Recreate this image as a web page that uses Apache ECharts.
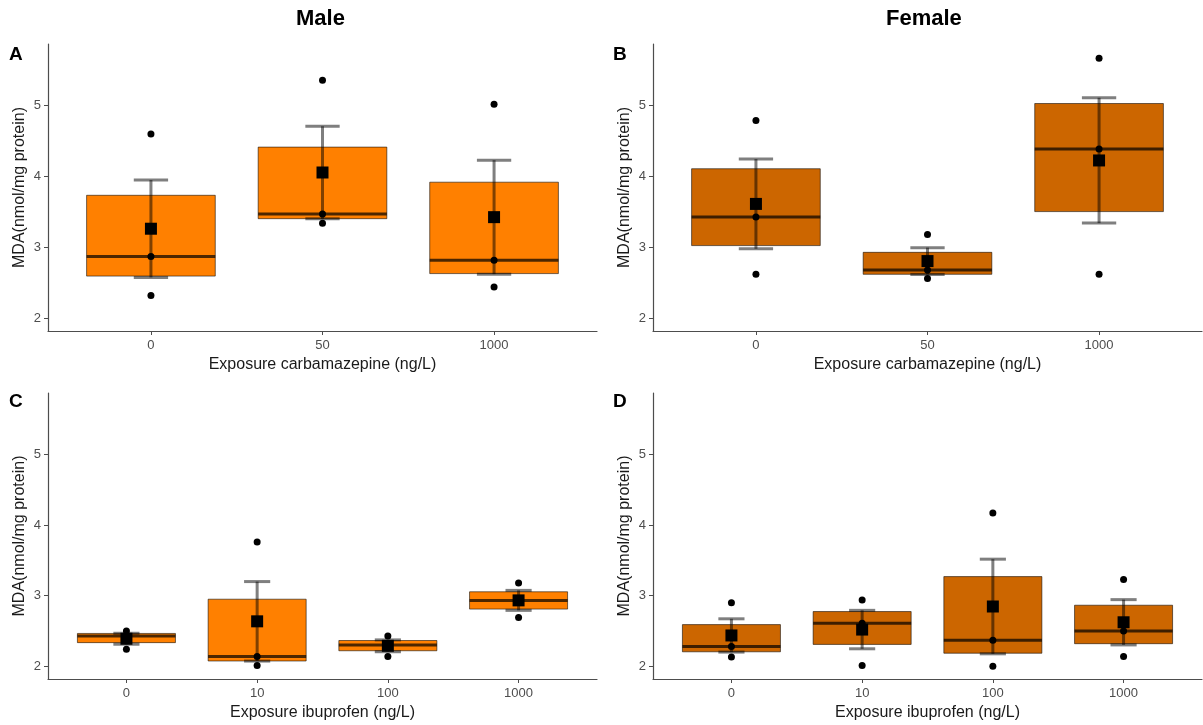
<!DOCTYPE html>
<html>
<head>
<meta charset="utf-8">
<title>MDA exposure boxplots</title>
<script src="https://cdn.jsdelivr.net/npm/echarts@6/dist/echarts.min.js"></script>
<style>
  html, body { margin: 0; padding: 0; background: #ffffff; }
  #chart { width: 1203px; height: 725px; }
</style>
</head>
<body>
<div id="chart"></div>
<script>
// categories (exposure levels)
const carbCategories = ['0', '50', '1000']
const ibuCategories = ['0', '10', '100', '1000']

// individual MDA values (nmol/mg protein) per exposure group
const maleCarb = [[2.32, 2.87, 4.60], [3.34, 3.47, 5.36], [2.44, 2.82, 5.02]]
const femaleCarb = [[2.62, 3.43, 4.79], [2.56, 2.68, 3.18], [2.62, 4.39, 5.67]]
const maleIbu = [[2.24, 2.43, 2.50], [2.01, 2.14, 3.76], [2.14, 2.30, 2.43], [2.69, 2.93, 3.18]]
const femaleIbu = [[2.13, 2.28, 2.90], [2.01, 2.61, 2.94], [2.00, 2.37, 4.17], [2.14, 2.50, 3.23]]

const yTicks = [2, 3, 4, 5]
const yMin = 1.82
const yMax = 5.87

const maleColor = '#FF8000'
const femaleColor = '#CC6600'
const FONT = 'Liberation Sans, Arial, sans-serif'
const BOX_WIDTH = 0.75
const CAP_WIDTH = 0.2

// ggplot-style (type 7) quantile
const quantile = (arr, p) => {
  const s = arr.slice().sort((a, b) => a - b)
  const h = (s.length - 1) * p
  const lo = Math.floor(h)
  const hi = Math.ceil(h)
  return s[lo] + (h - lo) * (s[hi] - s[lo])
}
const mean = arr => arr.reduce((a, b) => a + b, 0) / arr.length
const stdErr = arr => {
  const m = mean(arr)
  const v = arr.reduce((a, b) => a + (b - m) * (b - m), 0) / (arr.length - 1)
  return Math.sqrt(v / arr.length)
}

const panels = [
  { groups: maleCarb, cats: carbCategories, color: maleColor, xName: 'Exposure carbamazepine (ng/L)', left: 48, top: 44, height: 287 },
  { groups: femaleCarb, cats: carbCategories, color: femaleColor, xName: 'Exposure carbamazepine (ng/L)', left: 653, top: 44, height: 287 },
  { groups: maleIbu, cats: ibuCategories, color: maleColor, xName: 'Exposure ibuprofen (ng/L)', left: 48, top: 393, height: 286 },
  { groups: femaleIbu, cats: ibuCategories, color: femaleColor, xName: 'Exposure ibuprofen (ng/L)', left: 653, top: 393, height: 286 }
]

const grid = []
const xAxis = []
const yAxis = []
const series = []

panels.forEach((p, i) => {
  const positions = p.cats.map((_, k) => k)
  grid.push({ left: p.left, top: p.top, width: 549, height: p.height, outerBoundsMode: 'none' })

  xAxis.push({
    type: 'value',
    gridIndex: i,
    min: -0.6,
    max: p.cats.length - 0.4,
    name: p.xName,
    nameLocation: 'middle',
    nameGap: 26,
    nameTextStyle: { color: '#1a1a1a', fontSize: 16, fontFamily: FONT },
    axisLine: { show: true, onZero: false, lineStyle: { color: '#4d4d4d', width: 1.2 } },
    axisTick: { show: true, customValues: positions, length: 4, lineStyle: { color: '#4d4d4d' } },
    axisLabel: {
      customValues: positions,
      margin: 8,
      color: '#4d4d4d',
      fontSize: 13,
      fontFamily: FONT,
      formatter: v => p.cats[Math.round(v)]
    },
    splitLine: { show: false }
  })

  yAxis.push({
    type: 'value',
    gridIndex: i,
    min: yMin,
    max: yMax,
    name: 'MDA(nmol/mg protein)',
    nameLocation: 'middle',
    nameGap: 20,
    nameTextStyle: { color: '#1a1a1a', fontSize: 16, fontFamily: FONT },
    axisLine: { show: true, onZero: false, lineStyle: { color: '#4d4d4d', width: 1.2 } },
    axisTick: { show: true, customValues: yTicks, length: 4, lineStyle: { color: '#4d4d4d' } },
    axisLabel: { customValues: yTicks, margin: 7, color: '#4d4d4d', fontSize: 13, fontFamily: FONT },
    splitLine: { show: false }
  })

  const boxData = p.groups.map((g, k) => [k, quantile(g, 0.25), quantile(g, 0.5), quantile(g, 0.75)])
  const errData = p.groups.map((g, k) => [k, mean(g) - stdErr(g), mean(g) + stdErr(g)])
  const pointData = []
  p.groups.forEach((g, k) => g.forEach(v => pointData.push([k, v])))
  const meanData = p.groups.map((g, k) => [k, mean(g)])

  series.push({
    type: 'custom',
    xAxisIndex: i,
    yAxisIndex: i,
    encode: { x: 0, y: [1, 2, 3] },
    data: boxData,
    silent: true,
    renderItem: (params, api) => {
      const x = api.value(0)
      const half = api.size([BOX_WIDTH, 0])[0] / 2
      const q1 = api.coord([x, api.value(1)])
      const med = api.coord([x, api.value(2)])
      const q3 = api.coord([x, api.value(3)])
      return {
        type: 'group',
        children: [
          {
            type: 'rect',
            shape: { x: q3[0] - half, y: q3[1], width: half * 2, height: q1[1] - q3[1] },
            style: { fill: p.color, stroke: 'rgba(0,0,0,0.55)', lineWidth: 1 }
          },
          {
            type: 'line',
            shape: { x1: med[0] - half, y1: med[1], x2: med[0] + half, y2: med[1] },
            style: { stroke: 'rgba(0,0,0,0.7)', lineWidth: 3 }
          }
        ]
      }
    }
  })

  series.push({
    type: 'custom',
    xAxisIndex: i,
    yAxisIndex: i,
    encode: { x: 0, y: [1, 2] },
    data: errData,
    silent: true,
    renderItem: (params, api) => {
      const x = api.value(0)
      const half = api.size([CAP_WIDTH, 0])[0] / 2
      const lo = api.coord([x, api.value(1)])
      const hi = api.coord([x, api.value(2)])
      const style = { stroke: 'rgba(0,0,0,0.5)', lineWidth: 3 }
      return {
        type: 'group',
        children: [
          { type: 'line', shape: { x1: lo[0], y1: lo[1], x2: hi[0], y2: hi[1] }, style },
          { type: 'line', shape: { x1: hi[0] - half, y1: hi[1], x2: hi[0] + half, y2: hi[1] }, style },
          { type: 'line', shape: { x1: lo[0] - half, y1: lo[1], x2: lo[0] + half, y2: lo[1] }, style }
        ]
      }
    }
  })

  series.push({
    type: 'scatter',
    xAxisIndex: i,
    yAxisIndex: i,
    data: pointData,
    symbol: 'circle',
    symbolSize: 7,
    itemStyle: { color: '#000000', opacity: 1 },
    silent: true
  })

  series.push({
    type: 'scatter',
    xAxisIndex: i,
    yAxisIndex: i,
    data: meanData,
    symbol: 'rect',
    symbolSize: 12,
    itemStyle: { color: '#000000', opacity: 1 },
    silent: true
  })
})

const labelStyle = (text, x, y, size) => ({
  type: 'text',
  left: x,
  top: y,
  style: { text, fill: '#000000', font: `bold ${size}px ${FONT}` }
})

const option = {
  animation: false,
  backgroundColor: '#ffffff',
  grid,
  xAxis,
  yAxis,
  series,
  graphic: [
    labelStyle('Male', 296, 8, 22),
    labelStyle('Female', 886, 8, 22),
    labelStyle('A', 9, 45, 19),
    labelStyle('B', 613, 45, 19),
    labelStyle('C', 9, 392, 19),
    labelStyle('D', 613, 392, 19)
  ]
}

const chart = echarts.init(document.getElementById('chart'))
chart.setOption(option)
window.addEventListener('resize', () => chart.resize())
</script>
</body>
</html>
